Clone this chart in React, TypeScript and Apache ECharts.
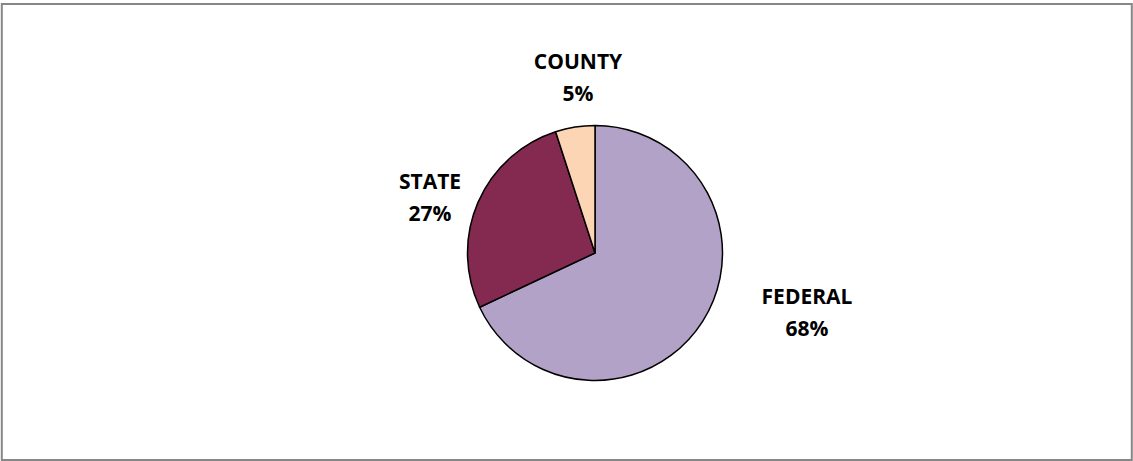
import React, { useEffect, useRef } from "react";
import * as echarts from "echarts";

const categories = ["FEDERAL", "STATE", "COUNTY"];
const shares = [68, 27, 5];
const colors = ["#B3A2C7", "#84294F", "#FCD5B5"];

// label block centres (layout only)
const labelPos = [
  [807, 312],
  [430, 197],
  [578, 77],
];

export default function App() {
  const ref = useRef<HTMLDivElement>(null);
  useEffect(() => {
    if (!ref.current) return;
    const chart = echarts.init(ref.current, null, { renderer: "svg" });
    chart.setOption({
      animation: false,
      graphic: [
        {
          type: "rect",
          shape: { x: 1.8, y: 4, width: 1130, height: 456 },
          style: { fill: "none", stroke: "#878787", lineWidth: 2 },
          silent: true,
        },
      ],
      series: [
        {
          type: "pie",
          center: [595, 253],
          radius: 127.5,
          startAngle: 90,
          clockwise: true,
          data: categories.map((c, i) => ({
            name: c,
            value: shares[i],
            itemStyle: { color: colors[i] },
          })),
          itemStyle: { borderColor: "#000", borderWidth: 1.5 },
          label: {
            show: true,
            position: "outside",
            formatter: (p: any) => `${p.name}\n${p.value}%`,
            fontFamily: "Open Sans",
            fontWeight: "bold",
            fontSize: 21,
            lineHeight: 32,
            color: "#000",
            align: "center",
          },
          labelLine: { show: false },
          labelLayout: (params: any) => ({
            x: labelPos[params.dataIndex][0],
            y: labelPos[params.dataIndex][1],
            align: "center",
            verticalAlign: "middle",
          }),
          emphasis: { disabled: true },
        },
      ],
    });
    return () => chart.dispose();
  }, []);
  return (
    <div
      ref={ref}
      style={{ position: "absolute", left: 0, top: 0, width: 1133, height: 461, background: "#fff" }}
    />
  );
}
